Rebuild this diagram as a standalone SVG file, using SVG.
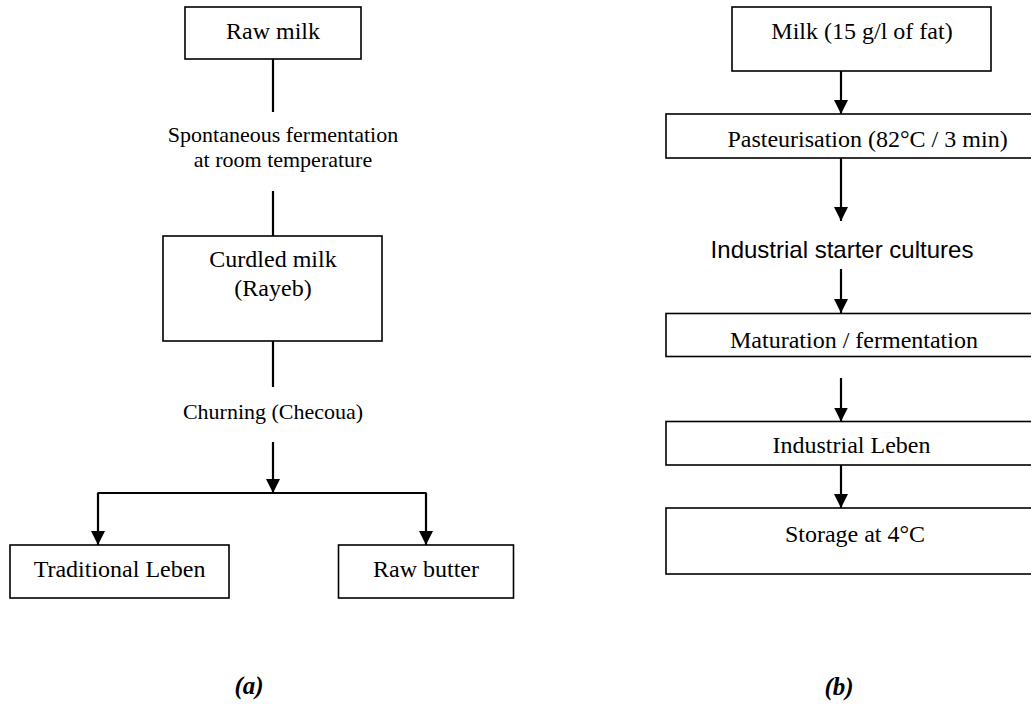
<svg xmlns="http://www.w3.org/2000/svg" width="1031" height="704" viewBox="0 0 1031 704">
<style>
.box{fill:#fff;stroke:#000;stroke-width:1.6}
.t{font-family:"Liberation Serif","Times New Roman",serif;font-size:24px;fill:#000;text-anchor:middle}
.l{font-family:"Liberation Serif","Times New Roman",serif;font-size:22px;fill:#000;text-anchor:middle}
.s{font-family:"Liberation Sans",Arial,sans-serif;font-size:24px;fill:#000;text-anchor:middle}
.c{font-family:"Liberation Serif","Times New Roman",serif;font-size:25px;font-weight:bold;font-style:italic;fill:#000;text-anchor:middle}
.ln{stroke:#000;stroke-width:2.2;fill:none}
.ar{stroke:#000;stroke-width:2.2;fill:none;marker-end:url(#ah)}
</style>
<defs>
<marker id="ah" markerUnits="userSpaceOnUse" markerWidth="14" markerHeight="14" refX="14" refY="7" orient="auto" viewBox="0 0 14 14">
<path d="M0,0 L14,7 L0,14 z" fill="#000"/>
</marker>
</defs>
<rect width="1031" height="704" fill="#fff"/>
<g id="connectors">
<line class="ln" x1="273" y1="59" x2="273" y2="112"/>
<line class="ln" x1="273" y1="191" x2="273" y2="236"/>
<line class="ln" x1="273" y1="341" x2="273" y2="387"/>
<line class="ar" x1="273" y1="442" x2="273" y2="493"/>
<line class="ln" x1="97.5" y1="493" x2="426.5" y2="493"/>
<line class="ar" x1="98" y1="493" x2="98" y2="545"/>
<line class="ar" x1="426" y1="493" x2="426" y2="545"/>
<line class="ar" x1="841" y1="71" x2="841" y2="114"/>
<line class="ar" x1="841" y1="158" x2="841" y2="221"/>
<line class="ar" x1="841" y1="269" x2="841" y2="313"/>
<line class="ar" x1="841" y1="378" x2="841" y2="421.5"/>
<line class="ar" x1="841" y1="465" x2="841" y2="508"/>
</g>
<g id="raw-milk"><rect class="box" x="185" y="7" width="176" height="52"/><text class="t" x="273" y="39">Raw milk</text></g>
<g id="label-fermentation"><text class="l" x="283" y="142">Spontaneous fermentation</text><text class="l" x="283" y="167">at room temperature</text></g>
<g id="curdled-milk"><rect class="box" x="163" y="236" width="219" height="105"/><text class="t" x="273" y="267">Curdled milk</text><text class="t" x="273" y="296">(Rayeb)</text></g>
<g id="label-churning"><text class="l" x="273" y="419">Churning (Checoua)</text></g>
<g id="traditional-leben"><rect class="box" x="10" y="545" width="219" height="53"/><text class="t" x="119.5" y="577">Traditional Leben</text></g>
<g id="raw-butter"><rect class="box" x="338.5" y="545" width="175" height="53"/><text class="t" x="426" y="577">Raw butter</text></g>
<g id="caption-a"><text class="c" x="249" y="694">(a)</text></g>
<g id="milk"><rect class="box" x="732" y="7" width="259" height="64"/><text class="t" x="862" y="39">Milk (15 g/l of fat)</text></g>
<g id="pasteurisation"><rect class="box" x="666" y="114" width="380" height="44"/><text class="t" x="867.5" y="147">Pasteurisation (82°C / 3 min)</text></g>
<g id="starter"><text class="s" x="842" y="258">Industrial starter cultures</text></g>
<g id="maturation"><rect class="box" x="666" y="313.5" width="380" height="43"/><text class="t" x="854" y="348">Maturation / fermentation</text></g>
<g id="industrial-leben"><rect class="box" x="666" y="421.5" width="380" height="43.5"/><text class="t" x="851.5" y="453">Industrial Leben</text></g>
<g id="storage"><rect class="box" x="666" y="508" width="380" height="66"/><text class="t" x="855" y="542">Storage at 4°C</text></g>
<g id="caption-b"><text class="c" x="839" y="695">(b)</text></g>
</svg>
